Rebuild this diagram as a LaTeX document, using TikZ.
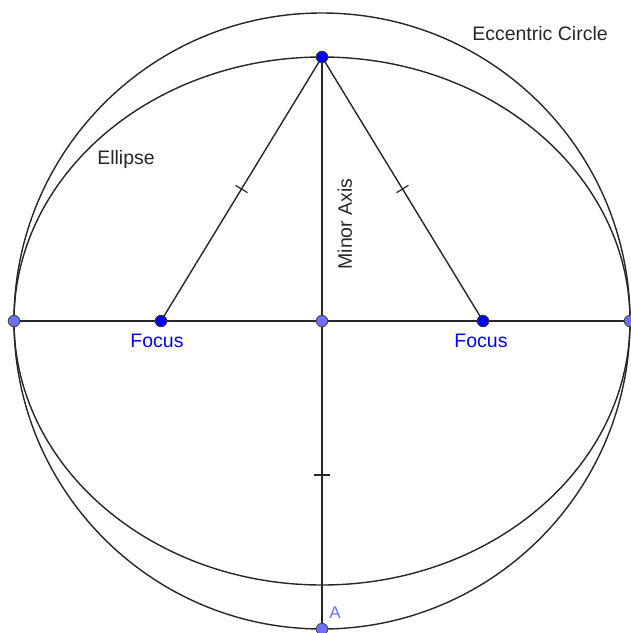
\documentclass[tikz,border=0pt]{standalone}
\usepackage{fontspec}
\setmainfont{Liberation Sans}
\usetikzlibrary{calc}
\definecolor{dkpt}{RGB}{0,0,255}
\definecolor{ltpt}{RGB}{110,110,255}
\begin{document}
\begin{tikzpicture}[x=1pt,y=-1pt,
  geo/.style={line width=1.4pt,draw=black!85},
  dkdot/.style={circle,fill=dkpt,draw=black!80,line width=0.9pt,inner sep=0pt,minimum size=11.5pt},
  ltdot/.style={circle,fill=ltpt,draw=black!70,line width=0.9pt,inner sep=0pt,minimum size=11.5pt},
  lbl/.style={font=\fontsize{19.5}{22}\selectfont,text=black!85},
  blbl/.style={font=\fontsize{19.5}{22}\selectfont,text=dkpt},
  tick/.style={line width=1.2pt,draw=black!85}]
\useasboundingbox (0,0) rectangle (631,633);
\coordinate (O) at (322,321);
% circle and ellipse
\draw[geo] (O) circle [radius=308];
\draw[geo] (O) ellipse [x radius=308, y radius=264];
% coordinates of points
\coordinate (T) at (322,57);
\coordinate (F1) at (161,321);
\coordinate (F2) at (483,321);
\coordinate (L) at (14,321);
\coordinate (R) at (630,321);
\coordinate (B) at (322,629);
% lines
\draw[geo] (L) -- (R);
\draw[geo] (T) -- (B);
\draw[geo] (T) -- (F1);
\draw[geo] (T) -- (F2);
% tick marks
\draw[tick] ($(T)!0.5!(F1)!7pt!90:(F1)$) -- ($(T)!0.5!(F1)!7pt!-90:(F1)$);
\draw[tick] ($(T)!0.5!(F2)!7pt!90:(F2)$) -- ($(T)!0.5!(F2)!7pt!-90:(F2)$);
\draw[tick] (314,475) -- (330,475);
% points
\node[dkdot] (pT) at (T) {};
\node[dkdot] (pF1) at (F1) {};
\node[dkdot] (pF2) at (F2) {};
\node[ltdot] (pL) at (L) {};
\node[ltdot] (pO) at (O) {};
\node[ltdot] (pR) at (R) {};
\node[ltdot] (pB) at (B) {};
% labels
\node[blbl] (f1) at (157,341) {Focus};
\node[blbl] (f2) at (481,341) {Focus};
\node[lbl] (el) at (126,159) {Ellipse};
\node[lbl] (ec) at (540,34) {Eccentric Circle};
\node[lbl,rotate=90] (mi) at (345,224) {Minor Axis};
\node[font=\fontsize{17}{20}\selectfont,text=ltpt] (a) at (335,613) {A};
\end{tikzpicture}
\end{document}
